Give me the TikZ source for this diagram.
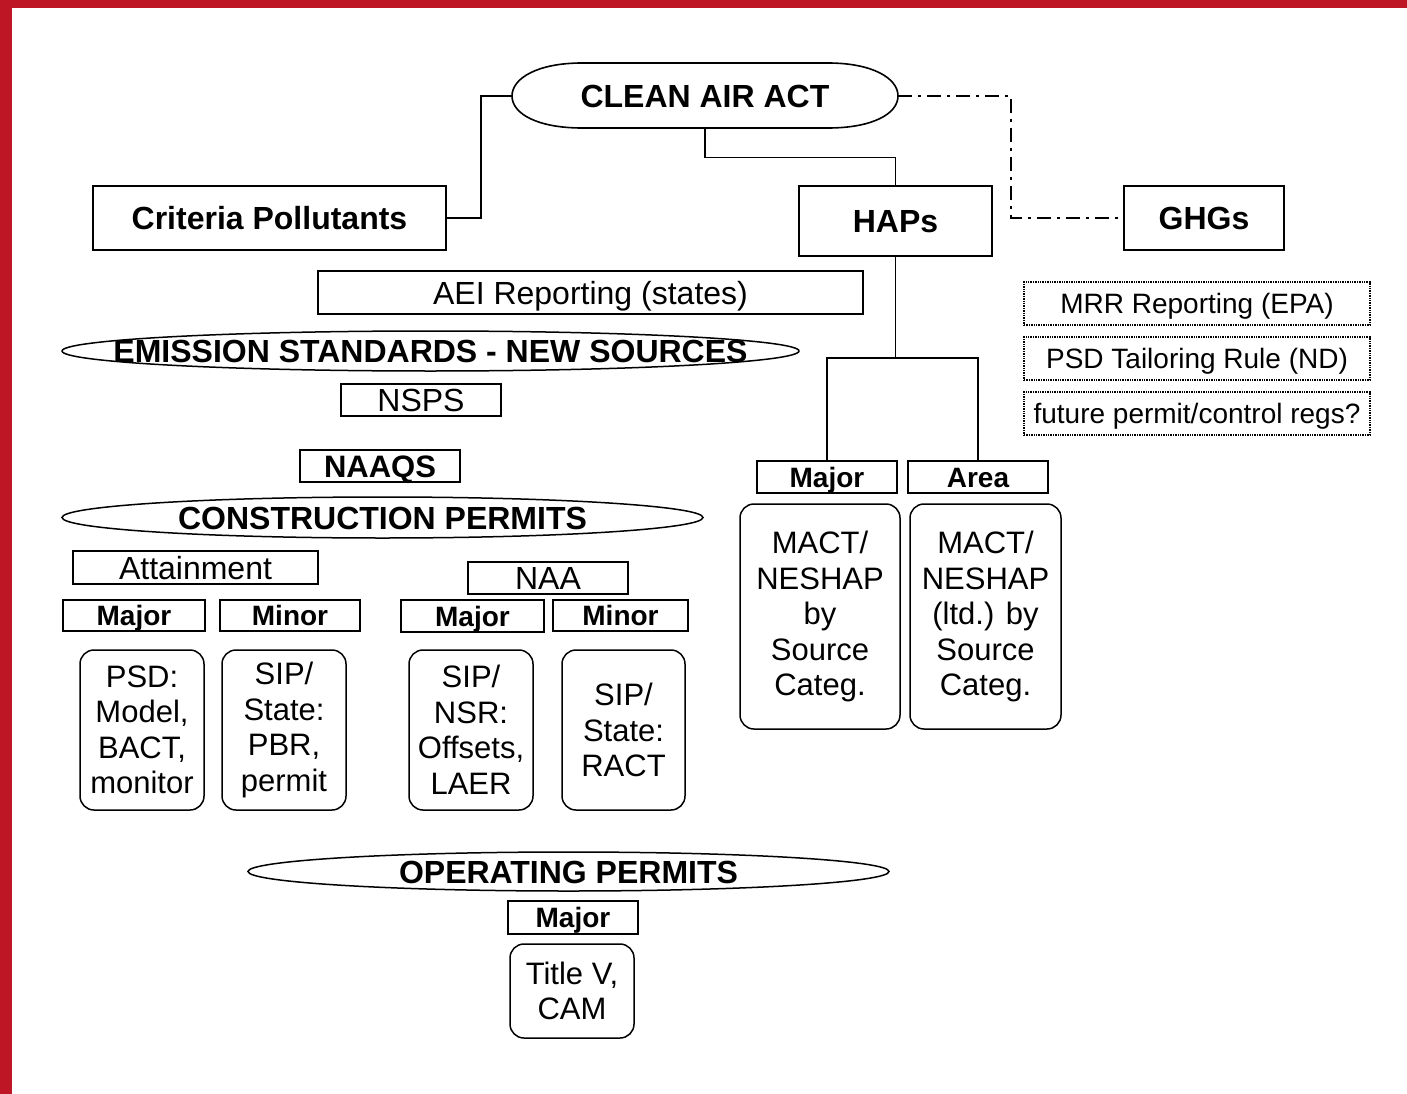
\documentclass[tikz,border=0pt]{standalone}
\usepackage{fontspec}
\setmainfont{Liberation Sans}
\usetikzlibrary{shapes.geometric}
\definecolor{frame}{RGB}{190,22,36}
\begin{document}
\begin{tikzpicture}[x=1pt,y=-1pt,
  hb/.style={font=\fontsize{32}{36}\selectfont\bfseries, text height=23pt, text depth=0pt},
  reg/.style={font=\fontsize{32}{36}\selectfont, text height=23pt, text depth=0pt},
  sm/.style={font=\fontsize{28}{32}\selectfont, text height=20pt, text depth=0pt},
  smb/.style={font=\fontsize{28}{32}\selectfont\bfseries, text height=20pt, text depth=0pt},
  box/.style={draw, line width=1.5pt, inner sep=0pt, rectangle},
  dbox/.style={draw, densely dotted, line width=1.4pt, inner sep=0pt, rectangle},
  rbox/.style={draw, line width=1.5pt, rounded corners=14pt, inner sep=0pt, align=center,
     font=\fontsize{31}{35.5}\selectfont},
  ell/.style={draw, ellipse, line width=1.5pt, inner xsep=-130pt, inner ysep=-7pt},
  conn/.style={line width=1.6pt},
  dashdot/.style={line width=1.6pt, dash pattern=on 14pt off 6pt on 3pt off 6pt},
]
\useasboundingbox (0,0) rectangle (1407,1094);
\fill[white] (0,0) rectangle (1407,1094);
\fill[frame] (0,0) rectangle (1407,8);
\fill[frame] (0,0) rectangle (12,1094);

% top
\node[hb, minimum width=386pt, minimum height=65pt, inner sep=0pt] (caa) at (705,96) {CLEAN AIR ACT};
\draw[line width=1.6pt] (582,63) -- (828,63) .. controls (872,63) and (898,78) .. (898,96)
  .. controls (898,114) and (872,128) .. (828,128) -- (582,128)
  .. controls (538,128) and (512,114) .. (512,96)
  .. controls (512,78) and (538,63) .. (582,63) -- cycle;

\node[box, hb, minimum width=353pt, minimum height=64pt] (crit) at (269.5,218) {Criteria Pollutants};
\node[box, hb, minimum width=193pt, minimum height=70pt] (haps) at (895.5,221) {HAPs};
\node[box, hb, minimum width=160pt, minimum height=64pt] (ghg) at (1204,218) {GHGs};

\draw[conn] (caa.west) -- ++(-31,0) |- (crit.east);
\draw[conn] (caa.south) -- ++(0,29) -| (haps.north);
\draw[dashdot] (caa.east) -- ++(113,0) |- (ghg.west);

% criteria side
\node[box, reg, line width=1.2pt, minimum width=545pt, minimum height=43pt] (aei) at (590.5,292.5) {AEI Reporting (states)};
\node[ell, hb, minimum width=737pt, minimum height=40pt] (es) at (430.5,351) {EMISSION STANDARDS - NEW SOURCES};
\node[box, reg, minimum width=160pt, minimum height=32pt] (nsps) at (421,400) {NSPS};
\node[box, hb, font=\fontsize{31}{36}\selectfont\bfseries, minimum width=160pt, minimum height=32pt] (naaqs) at (380,466) {NAAQS};
\node[ell, hb, minimum width=641pt, minimum height=41pt] (cp) at (382.5,517.5) {CONSTRUCTION PERMITS};
\node[box, reg, minimum width=245pt, minimum height=33pt] (att) at (195.5,567.5) {Attainment};
\node[box, reg, minimum width=160pt, minimum height=32pt] (naa) at (548,578) {NAA};
\node[box, smb, minimum width=142pt, minimum height=31pt] (amaj) at (134,615.5) {Major};
\node[box, smb, minimum width=140pt, minimum height=31pt] (amin) at (290,615.5) {Minor};
\node[box, smb, minimum width=143pt, minimum height=32pt] (nmaj) at (472.5,616) {Major};
\node[box, smb, minimum width=135pt, minimum height=31pt] (nmin) at (620.5,615.5) {Minor};

\node[rbox, minimum width=124pt, minimum height=160pt] (psd) at (142,730) {PSD:\\Model,\\BACT,\\monitor};
\node[rbox, minimum width=124pt, minimum height=160pt] (sipa) at (284,730) {SIP/\\State:\\PBR,\\permit};
\node[rbox, minimum width=124pt, minimum height=160pt] (sipb) at (471,730) {SIP/\\NSR:\\Offsets,\\LAER};
\node[rbox, minimum width=123pt, minimum height=160pt] (sipc) at (623.5,730) {SIP/\\State:\\RACT};

% HAPs side
\node[box, smb, minimum width=140pt, minimum height=32pt] (hmaj) at (827,477) {Major};
\node[box, smb, minimum width=140pt, minimum height=32pt] (hare) at (978,477) {Area};
\draw[conn] (haps.south) -- ++(0,101) coordinate (hj);
\draw[conn] (hmaj.north) |- (hj) -| (hare.north);
\node[rbox, minimum width=160pt, minimum height=225pt] (macta) at (820,616.5) {MACT/\\NESHAP\\by\\Source\\Categ.};
\node[rbox, minimum width=151pt, minimum height=225pt] (mactb) at (985.5,616.5) {MACT/\\NESHAP\\(ltd.) by\\Source\\Categ.};

% GHGs side
\node[dbox, sm, minimum width=346pt, minimum height=43pt] (mrr) at (1197,303.5) {MRR Reporting (EPA)};
\node[dbox, sm, minimum width=346pt, minimum height=43pt] (psdt) at (1197,358.5) {PSD Tailoring Rule (ND)};
\node[dbox, sm, minimum width=346pt, minimum height=43pt] (fut) at (1197,413.5) {future permit/control regs?};

% operating permits
\node[ell, hb, minimum width=641pt, minimum height=39pt] (op) at (568.5,871.5) {OPERATING PERMITS};
\node[box, smb, minimum width=130pt, minimum height=33pt] (omaj) at (573,917.5) {Major};
\node[rbox, minimum width=124pt, minimum height=94pt] (tv) at (572,991) {Title V,\\CAM};
\end{tikzpicture}
\end{document}
